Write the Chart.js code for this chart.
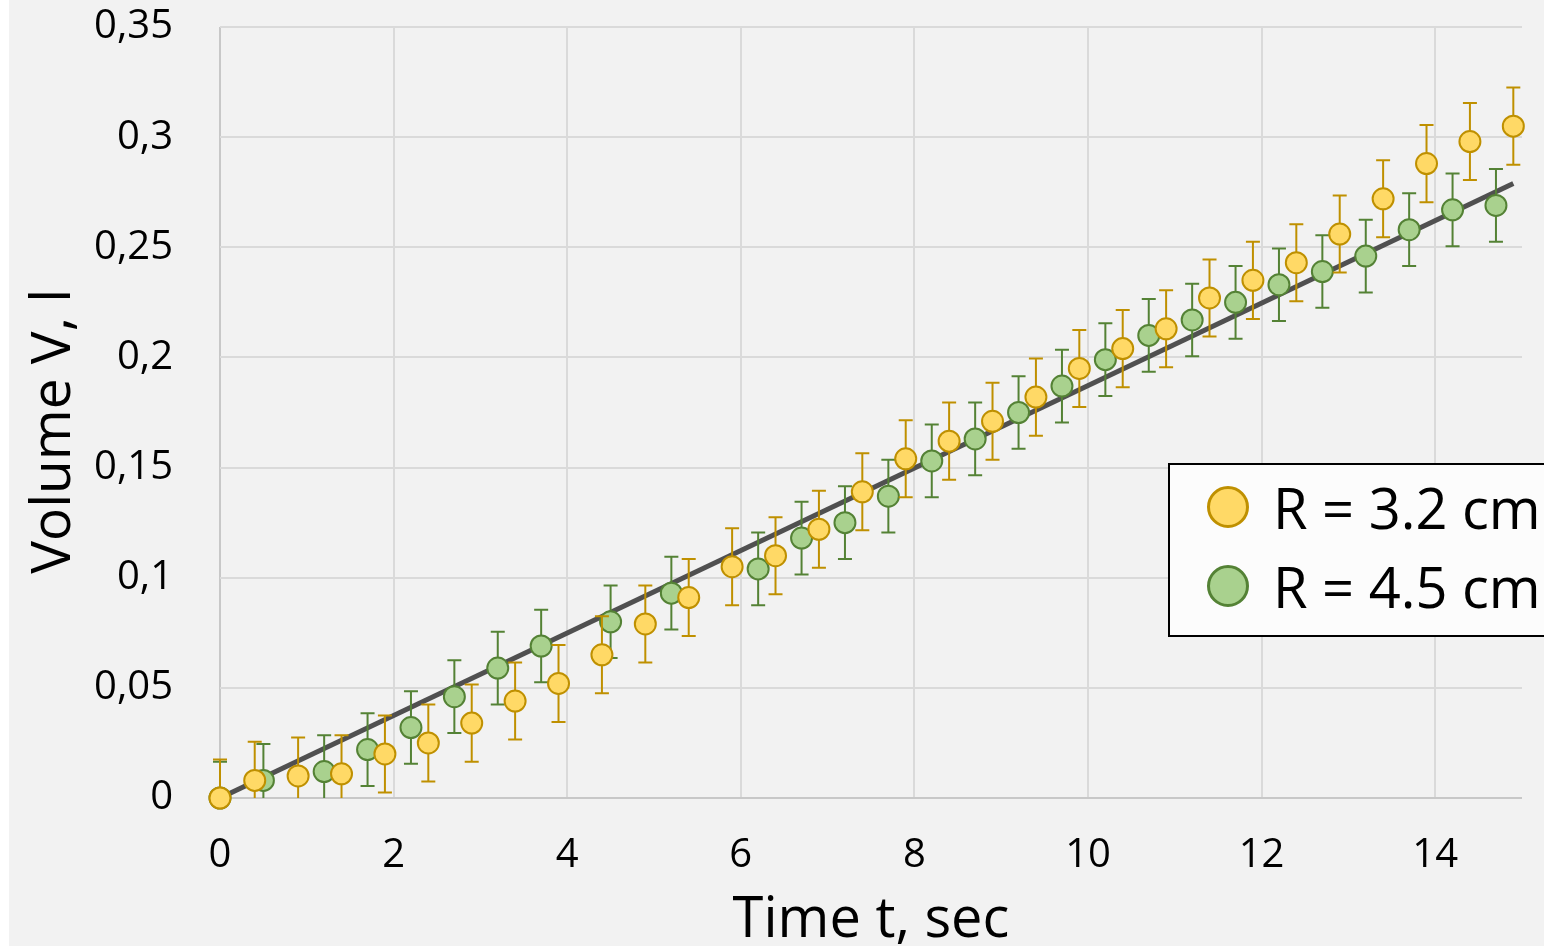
<!DOCTYPE html>
<html>
<head>
<meta charset="utf-8">
<script src="https://cdn.jsdelivr.net/npm/chart.js@4/dist/chart.umd.min.js"></script>
<style>
  html, body { margin: 0; padding: 0; background: #ffffff; overflow: hidden; width: 1544px; height: 947px; }
  #wrap { position: absolute; left: 9px; top: 0; width: 1535px; height: 946px; background: #f2f2f2; }
  #chart { display: block; }
  #legend {
    position: absolute; left: 1168px; top: 463px; width: 400px; height: 174px;
    background: #fcfcfc; border: 2px solid #000; box-sizing: border-box;
    font-family: "Open Sans", sans-serif; font-size: 56px; color: #000;
  }
  .item { position: absolute; left: 37px; height: 60px; display: flex; align-items: center; }
  .dot { width: 42px; height: 42px; border-radius: 50%; box-sizing: border-box; border: 3px solid; margin-right: 24px; }
</style>
</head>
<body>
<div id="wrap"><canvas id="chart" width="1535" height="946"></canvas></div>
<div id="legend"></div>
<script>
// R = 3.2 cm
const tSmall = [0, 0.4, 0.9, 1.4, 1.9, 2.4, 2.9, 3.4, 3.9, 4.4, 4.9, 5.4, 5.9, 6.4, 6.9, 7.4, 7.9, 8.4, 8.9, 9.4,
  9.9, 10.4, 10.9, 11.4, 11.9, 12.4, 12.9, 13.4, 13.9, 14.4, 14.9];
const vSmall = [0, 0.008, 0.010, 0.011, 0.020, 0.025, 0.034, 0.044, 0.052, 0.065, 0.079, 0.091, 0.105, 0.110, 0.122,
  0.139, 0.154, 0.162, 0.171, 0.182, 0.195, 0.204, 0.213, 0.227, 0.235, 0.243, 0.256, 0.272, 0.288, 0.298, 0.305];
// R = 4.5 cm
const tLarge = [0, 0.5, 1.2, 1.7, 2.2, 2.7, 3.2, 3.7, 4.5, 5.2, 6.2, 6.7, 7.2, 7.7, 8.2, 8.7, 9.2, 9.7, 10.2, 10.7,
  11.2, 11.7, 12.2, 12.7, 13.2, 13.7, 14.2, 14.7];
const vLarge = [0, 0.008, 0.012, 0.022, 0.032, 0.046, 0.059, 0.069, 0.080, 0.093, 0.104, 0.118, 0.125, 0.137, 0.153,
  0.163, 0.175, 0.187, 0.199, 0.210, 0.217, 0.225, 0.233, 0.239, 0.246, 0.258, 0.267, 0.269];
const errSmall = 0.0175;
const errLarge = 0.0165;
// trend line
const tFit = [0, 14.9];
const vFit = [0, 0.279];

const toPoints = (ts, vs) => ts.map((t, i) => ({ x: t, y: vs[i] }));

const errorBars = {
  id: 'errorBars',
  beforeDatasetDraw(chart, args) {
    const ds = chart.data.datasets[args.index];
    if (!ds.errorY) return;
    const { ctx, chartArea, scales: { x, y } } = chart;
    ctx.save();
    ctx.beginPath();
    ctx.rect(chartArea.left - 10, chartArea.top, chartArea.right - chartArea.left + 20, chartArea.bottom - chartArea.top);
    ctx.clip();
    ctx.strokeStyle = ds.borderColor;
    ctx.lineWidth = 2;
    ds.data.forEach(p => {
      const px = x.getPixelForValue(p.x);
      const top = y.getPixelForValue(p.y + ds.errorY);
      const bot = y.getPixelForValue(p.y - ds.errorY);
      ctx.beginPath();
      ctx.moveTo(px, top); ctx.lineTo(px, bot);
      ctx.moveTo(px - 7, top); ctx.lineTo(px + 7, top);
      ctx.moveTo(px - 7, bot); ctx.lineTo(px + 7, bot);
      ctx.stroke();
    });
    ctx.restore();
  }
};

const tickFont = { family: '"Open Sans", sans-serif', size: 40 };
const titleFont = { family: '"Open Sans", sans-serif', size: 56, lineHeight: 1 };
const gridColor = ctx => ctx.tick && ctx.tick.value === 0 ? '#c8c8c8' : '#dadada';

const chart = new Chart(document.getElementById('chart'), {
  type: 'scatter',
  data: {
    datasets: [
      {
        label: 'R = 3.2 cm',
        data: toPoints(tSmall, vSmall),
        errorY: errSmall,
        backgroundColor: '#FFD966',
        borderColor: '#BF9000',
        borderWidth: 2,
        pointRadius: 10.5,
        clip: false,
        order: 0
      },
      {
        label: 'R = 4.5 cm',
        data: toPoints(tLarge, vLarge),
        errorY: errLarge,
        backgroundColor: '#A9D18E',
        borderColor: '#548235',
        borderWidth: 2,
        pointRadius: 10.5,
        clip: false,
        order: 1
      },
      {
        type: 'line',
        label: 'fit',
        data: toPoints(tFit, vFit),
        borderColor: '#505050',
        borderWidth: 5,
        pointRadius: 0,
        showLine: true,
        clip: false,
        order: 2
      }
    ]
  },
  options: {
    responsive: false,
    animation: false,
    devicePixelRatio: 1,
    layout: { padding: 0 },
    plugins: { legend: { display: false }, tooltip: { enabled: false } },
    scales: {
      x: {
        type: 'linear',
        min: 0, max: 15,
        afterBuildTicks: axis => { axis.ticks = axis.ticks.filter(t => t.value % 2 === 0); },
        afterFit: scale => { scale.height = 148; scale.paddingLeft = 0; scale.paddingRight = 22; },
        ticks: { stepSize: 2, color: '#000', font: tickFont, padding: 34, maxRotation: 0 },
        grid: { color: gridColor, lineWidth: 2, drawTicks: false },
        border: { display: false },
        title: { display: true, text: 'Time t, sec', color: '#000', font: titleFont, padding: { top: 0, bottom: -3.5 } }
      },
      y: {
        min: 0, max: 0.35,
        afterFit: scale => { scale.width = 211; scale.paddingTop = 27; scale.paddingBottom = 0; },
        ticks: {
          stepSize: 0.05, color: '#000', font: tickFont, padding: 47,
          callback: v => String(Math.round(v * 100) / 100).replace('.', ',')
        },
        grid: { color: gridColor, lineWidth: 2, drawTicks: false },
        border: { display: false },
        title: {
          display: true, text: 'Volume V, l  \u2009', color: '#000',
          font: { family: '"Open Sans", sans-serif', size: 55, lineHeight: 1 }, padding: { top: 18, bottom: 0 }
        }
      }
    }
  },
  plugins: [errorBars]
});

// legend box built from the datasets
const legend = document.getElementById('legend');
chart.data.datasets.slice(0, 2).forEach((ds, i) => {
  const item = document.createElement('div');
  item.className = 'item';
  item.style.top = (i === 0 ? 12 : 91) + 'px';
  const dot = document.createElement('span');
  dot.className = 'dot';
  dot.style.background = ds.backgroundColor;
  dot.style.borderColor = ds.borderColor;
  const txt = document.createElement('span');
  txt.textContent = ds.label;
  item.appendChild(dot);
  item.appendChild(txt);
  legend.appendChild(item);
});
</script>
</body>
</html>
